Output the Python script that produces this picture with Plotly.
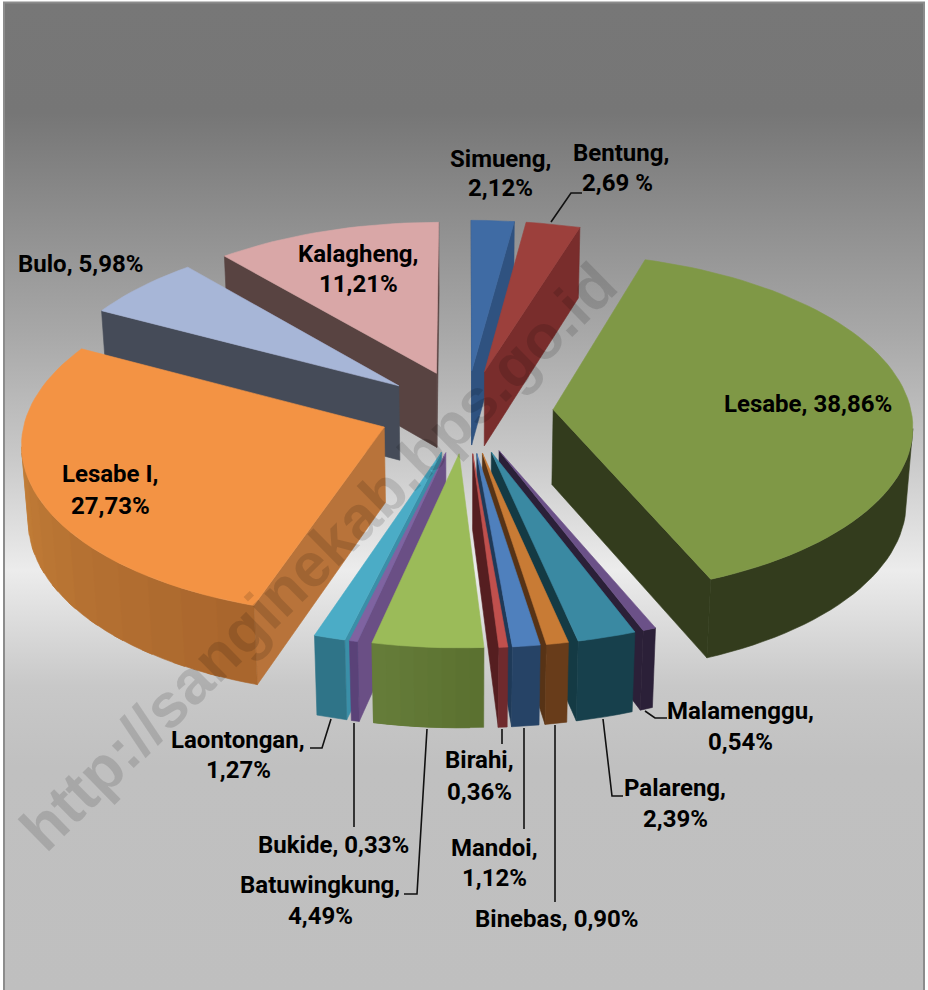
import math
import urllib.parse
import plotly.graph_objects as go

# ---- data (clockwise from 12 o'clock) ----
names = ["Simueng", "Bentung", "Lesabe", "Malamenggu", "Palareng", "Binebas", "Mandoi",
         "Birahi", "Batuwingkung", "Bukide", "Laontongan", "Lesabe I", "Bulo", "Kalagheng"]
values = [2.12, 2.69, 38.86, 0.54, 2.39, 0.90, 1.12, 0.36, 4.49, 0.33, 1.27, 27.73, 5.98, 11.21]

# ---- styles ----
top_colors = ["#3f6ba4", "#9c403c", "#7f9846", "#6b5188", "#3a89a2", "#c87b35", "#4f80bd",
              "#c0504d", "#9bbb59", "#7f63a1", "#4bacc6", "#f39344", "#a7b6d7", "#d9a7a7"]
cut_colors = ["#2f5280", "#792d2c", "#333c1d", "#2b2038", "#143a44", "#573316", "#1f3a58",
              "#551e20", "#5f7335", "#6a4f85", "#3a8fa8", "#b8733a", "#454b58", "#584341"]
arc_start_colors = ["#2f5280", "#792d2c", "#333c1d", "#2b2038", "#17404c", "#683c1a", "#264366",
                    "#6f2a2d", "#5a702f", "#5a4278", "#2f7488", "#a8652d", "#454b58", "#584341"]
arc_end_colors = ["#2f5280", "#792d2c", "#333c1d", "#2b2038", "#17404c", "#683c1a", "#264366",
                  "#6f2a2d", "#667d3a", "#5a4278", "#2f7488", "#d08a3c", "#454b58", "#584341"]

# ---- camera of the tilted, exploded pie ----
CX, CY = 466.0, 411.5
SX, SY = 358.0, 170.0
P, Q = 0.085, 0.015
H = 75.0
EXPLODE = 0.244


def proj(X, Y, z=0.0):
    w = 1 + P * Y + Q * z
    return CX + SX * X / w, CY - SY * Y / w + H * z / (1 + P * Y)


def hex_rgb(c):
    return [int(c[i:i + 2], 16) for i in (1, 3, 5)]


def mix(a, b, t):
    ra, rb = hex_rgb(a), hex_rgb(b)
    return "#%02x%02x%02x" % tuple(round(u + (v - u) * t) for u, v in zip(ra, rb))


fig = go.Figure()


def face(points, color):
    xs = [p[0] for p in points] + [points[0][0]]
    ys = [p[1] for p in points] + [points[0][1]]
    fig.add_trace(go.Scatter(x=xs, y=ys, mode="lines", fill="toself", fillcolor=color,
                             line=dict(color=color, width=0.6), hoverinfo="skip", showlegend=False))


def band(points, color):
    # a wall following consecutive world rim points, clockwise
    face([proj(*p) for p in points] + [proj(*p, 1.0) for p in reversed(points)], color)


def visible(a, b):
    return proj(*b)[0] < proj(*a)[0]


total = sum(values)
slices = []
acc = 0.0
for i, v in enumerate(values):
    a0 = acc / total * 2 * math.pi
    acc += v
    a1 = acc / total * 2 * math.pi
    slices.append((i, a0, a1))

# painter's order: far slices first
order = sorted(slices, key=lambda s: -math.cos((s[1] + s[2]) / 2))

for i, a0, a1 in order:
    mid = (a0 + a1) / 2
    ox, oy = EXPLODE * math.sin(mid), EXPLODE * math.cos(mid)
    n = max(2, int((a1 - a0) / math.radians(2)))
    rim = [(ox + math.sin(a0 + (a1 - a0) * k / n), oy + math.cos(a0 + (a1 - a0) * k / n))
           for k in range(n + 1)]
    apex = (ox, oy)
    if visible(apex, rim[0]):
        band([apex, rim[0]], cut_colors[i])
    if visible(rim[-1], apex):
        band([rim[-1], apex], cut_colors[i])
    seen = [k for k in range(n) if visible(rim[k], rim[k + 1])]
    if seen:
        if arc_start_colors[i] == arc_end_colors[i]:
            band(rim[seen[0]:seen[-1] + 2], arc_start_colors[i])
        else:
            steps = 10
            size = max(1, len(seen) // steps)
            for j in range(0, len(seen), size):
                k = seen[j]
                t = (k + size / 2) / n
                # each band runs on under the next one, so that no seam shows
                band(rim[k:min(k + size + 1 + 1, seen[-1] + 2)],
                     mix(arc_start_colors[i], arc_end_colors[i], t))
    face([proj(*apex)] + [proj(*p) for p in rim], top_colors[i])

# ---- leader lines ----
leaders = [
    [(551, 222), (571, 193), (582, 193)],
    [(331, 719), (322, 748), (310, 748)],
    [(354, 723), (354, 827)],
    [(427, 729), (417, 894), (404, 894)],
    [(502, 729), (502, 744)],
    [(524, 728), (524, 829)],
    [(555, 725), (555, 902)],
    [(603, 719), (612, 796), (623, 796)],
    [(645, 711), (655, 718), (667, 718)],
]
for pts in leaders:
    fig.add_trace(go.Scatter(x=[p[0] for p in pts], y=[p[1] for p in pts], mode="lines",
                             line=dict(color="#111111", width=1.6), hoverinfo="skip", showlegend=False))


def pct(name):
    s = f"{values[names.index(name)]:.2f}".replace(".", ",")
    return s + (" %" if name == "Bentung" else "%")


label_lines = [
    ("Simueng,", 500, 159), (pct("Simueng"), 500, 188),
    ("Bentung,", 621, 153), (pct("Bentung"), 617, 183),
    ("Kalagheng,", 358, 254), (pct("Kalagheng"), 358, 284),
    ("Bulo, " + pct("Bulo"), 80, 264),
    ("Lesabe, " + pct("Lesabe"), 808, 404),
    ("Lesabe I,", 110, 474), (pct("Lesabe I"), 110, 506),
    ("Malamenggu,", 740, 711), (pct("Malamenggu"), 740, 742),
    ("Palareng,", 675, 788), (pct("Palareng"), 675, 819),
    ("Binebas, " + pct("Binebas"), 557, 919),
    ("Mandoi,", 494, 848), (pct("Mandoi"), 494, 878),
    ("Birahi,", 479, 760), (pct("Birahi"), 479, 792),
    ("Batuwingkung,", 320, 885), (pct("Batuwingkung"), 320, 916),
    ("Bukide, " + pct("Bukide"), 333, 845),
    ("Laontongan,", 238, 740), (pct("Laontongan"), 238, 770),
]

annotations = [dict(text="http://sanginekab.bps.go.id", x=318, y=556, xref="x", yref="y",
                    showarrow=False, textangle=-44.5,
                    font=dict(family="Liberation Sans, Arial, sans-serif", size=62, weight=700,
                              color="rgba(0,0,0,0.13)"))]
for text, x, y in label_lines:
    annotations.append(dict(text=text, x=x, y=y, xref="x", yref="y", showarrow=False,
                            font=dict(family="Roboto, Liberation Sans, Arial, sans-serif",
                                      size=24, weight=700, color="#000000")))

# ---- vertical background gradient with the thin frame ----
stops = [(0, "#777777"), (110, "#767676"), (330, "#a8a8a8"), (450, "#c8c8c8"), (565, "#ececec"),
         (680, "#c8c8c8"), (760, "#c0c0c0"), (990, "#bfbfbf")]
stop_svg = "".join(f'<stop offset="{y / 990:.4f}" stop-color="{c}"/>' for y, c in stops)
svg = ('<svg xmlns="http://www.w3.org/2000/svg" width="928" height="990">'
       f'<defs><linearGradient id="g" x1="0" y1="0" x2="0" y2="1">{stop_svg}</linearGradient></defs>'
       '<rect width="928" height="990" fill="#ffffff"/>'
       '<rect x="4" y="2.5" width="920" height="995" fill="url(#g)" stroke="#8c8c8c" stroke-width="2"/>'
       '</svg>')

fig.update_layout(
    width=928, height=990, margin=dict(l=0, r=0, t=0, b=0),
    paper_bgcolor="white", plot_bgcolor="rgba(0,0,0,0)", showlegend=False,
    xaxis=dict(range=[0, 928], visible=False, fixedrange=True),
    yaxis=dict(range=[990, 0], visible=False, fixedrange=True),
    annotations=annotations,
    images=[dict(source="data:image/svg+xml," + urllib.parse.quote(svg), xref="paper", yref="paper",
                 x=0, y=1, sizex=1, sizey=1, xanchor="left", yanchor="top", sizing="stretch", layer="below")],
)

fig.write_html("out.html", config={"displayModeBar": False},
               post_script="document.body.style.margin='0';document.documentElement.style.overflow='hidden';")
